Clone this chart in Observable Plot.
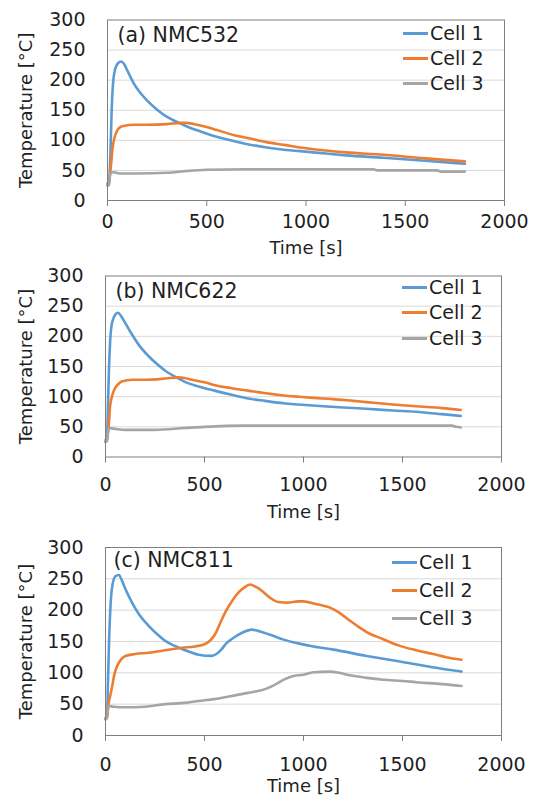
<!DOCTYPE html>
<html><head><meta charset="utf-8">
<script src="https://cdn.jsdelivr.net/npm/d3@7"></script>
<script src="https://cdn.jsdelivr.net/npm/@observablehq/plot@0.6"></script>
<style>
body{margin:0;background:#fff;}
#wrap{position:relative;width:539px;height:796px;font-family:"DejaVu Sans",sans-serif;color:#1f1f1f;overflow:hidden}
.panel{position:absolute;left:0;}
.panel svg{overflow:visible}
.leg{position:absolute;font-size:19px;line-height:19px;white-space:nowrap;display:flex;align-items:center}
.leg span.sw{display:inline-block;width:25px;height:3px;margin-right:2px}
</style></head>
<body><div id="wrap"></div>
<script>
// ---------- data ----------
const seriesNames = ["Cell 1", "Cell 2", "Cell 3"];
const seriesColors = ["#5B9BD5", "#ED7D31", "#A5A5A5"];
const panelTitles = ["(a) NMC532", "(b) NMC622", "(c) NMC811"];
const xTicks = [0, 500, 1000, 1500, 2000];
const yTicks = [0, 50, 100, 150, 200, 250, 300];

// (a) NMC532
const a_cell1 = [[0,25],[8,30],[15,80],[20,140],[28,195],[40,220],[55,229],[68,231],[85,226],[100,216],[130,196],[160,181],[200,166],[250,151],[300,139],[367,128],[400,123],[467,115],[550,106],[634,99],[700,94],[802,88],[900,84],[970,82],[1100,78],[1200,75],[1389,71],[1600,66],[1800,61]];
const a_cell2 = [[0,28],[10,38],[18,60],[25,86],[35,104],[48,116],[65,122],[82,124],[132,126],[200,126],[300,127],[367,129],[400,129],[434,127],[500,122],[551,117],[634,109],[719,103],[800,97],[900,92],[970,88],[1100,83],[1200,80],[1389,76],[1600,70],[1800,65]];
const a_cell3 = [[0,25],[8,26],[12,40],[18,47],[30,47],[60,45],[150,45],[300,46],[400,49],[500,51],[700,52],[1000,52],[1340,52],[1360,50],[1660,50],[1680,48],[1800,48]];
// (b) NMC622
const b_cell1 = [[0,25],[8,30],[12,80],[18,150],[25,200],[35,225],[50,236],[63,239],[80,233],[100,222],[134,203],[170,185],[218,167],[260,154],[302,143],[369,130],[420,122],[470,117],[550,110],[637,103],[720,97],[805,93],[900,89],[975,87],[1100,84],[1200,82],[1316,80],[1450,77],[1567,75],[1700,71],[1794,68]];
const b_cell2 = [[0,28],[10,35],[18,60],[23,84],[35,103],[48,114],[65,121],[82,125],[134,128],[200,128],[302,130],[369,132],[400,131],[436,128],[500,124],[553,119],[637,114],[720,110],[800,106],[900,102],[972,100],[1050,98],[1149,96],[1250,93],[1316,91],[1450,87],[1567,84],[1700,81],[1794,78]];
const b_cell3 = [[0,25],[8,27],[12,40],[18,48],[40,47],[100,45],[250,45],[400,48],[500,50],[700,52],[1000,52],[1500,52],[1750,52],[1770,50],[1794,49]];
// (c) NMC811
const c_cell1 = [[0,26],[8,30],[12,80],[18,150],[25,205],[35,240],[50,254],[67,256],[85,246],[100,234],[134,212],[170,193],[218,175],[260,162],[302,151],[350,143],[386,138],[430,133],[470,129],[537,127],[560,130],[587,138],[610,147],[638,154],[690,164],[738,169],[780,166],[839,160],[900,153],[973,147],[1050,142],[1151,137],[1319,127],[1487,118],[1650,109],[1798,102]];
const c_cell2 = [[0,28],[8,32],[15,50],[25,65],[34,79],[45,98],[59,111],[80,122],[101,127],[150,130],[218,132],[300,136],[386,140],[450,142],[503,146],[530,152],[554,162],[580,180],[604,196],[640,215],[671,228],[700,236],[730,241],[760,237],[789,231],[830,220],[873,213],[920,212],[973,214],[1000,214],[1060,210],[1134,204],[1180,196],[1235,183],[1280,173],[1319,165],[1400,154],[1487,143],[1570,136],[1655,130],[1720,125],[1798,121]];
const c_cell3 = [[0,26],[8,28],[12,40],[18,47],[40,46],[100,45],[200,46],[302,50],[400,52],[470,55],[550,58],[638,63],[720,68],[806,74],[850,80],[906,90],[950,95],[1000,97],[1051,101],[1134,102],[1180,100],[1235,96],[1320,92],[1403,89],[1500,87],[1571,85],[1700,82],[1798,79]];

// ---------- layout ----------
const panels = [
  {title: panelTitles[0], series: [a_cell1, a_cell2, a_cell3], top: 0, height: 265, mt: 19.5, mb: 65, ml: 107, mr: 35, tickPad: 8.2, xLabOff: 53, yLabOff: 88, tdx: 10, tdy: 15.5, leg: {left: 403, top: 33, gap: 25}},
  {title: panelTitles[1], series: [b_cell1, b_cell2, b_cell3], top: 265, height: 265, mt: 10.5, mb: 73.5, ml: 105, mr: 38, tickPad: 14.2, xLabOff: 61, yLabOff: 86, tdx: 10, tdy: 15.5, leg: {left: 402, top: 287, gap: 25.5}},
  {title: panelTitles[2], series: [c_cell1, c_cell2, c_cell3], top: 530, height: 266, mt: 17, mb: 61, ml: 105, mr: 38, tickPad: 15.5, xLabOff: 56, yLabOff: 86, tdx: 8, tdy: 13, leg: {left: 392, top: 562, gap: 28}}
];

const wrap = document.getElementById("wrap");
const font = '"DejaVu Sans", sans-serif';

panels.forEach(p => {
  const rows = [];
  p.series.forEach((s, i) => s.forEach(([t, v]) => rows.push({t, v, cell: seriesNames[i]})));
  const chart = Plot.plot({
    width: 539, height: p.height,
    marginTop: p.mt, marginBottom: p.mb, marginLeft: p.ml, marginRight: p.mr,
    style: {fontFamily: font, fontSize: "19px", color: "#1f1f1f", background: "transparent"},
    x: {domain: [0, 2000]},
    y: {domain: [0, 300]},
    color: {domain: seriesNames, range: seriesColors},
    marks: [
      Plot.gridY(yTicks.filter(d => d > 0 && d < 300), {stroke: "#d9d9d9", strokeOpacity: 1}),
      Plot.axisX({ticks: xTicks, tickFormat: d => String(d), tickSize: 6, tickPadding: p.tickPad, stroke: "#7f7f7f", fontSize: 19, label: null}),
      Plot.axisX({ticks: [], tickSize: 0, label: "Time [s]", labelAnchor: "center", labelArrow: "none", labelOffset: p.xLabOff, fontSize: 18}),
      Plot.axisY({ticks: yTicks, tickFormat: d => String(d), tickSize: 0, tickPadding: 22, fontSize: 19, label: null}),
      Plot.axisY({ticks: [], tickSize: 0, label: "Temperature [°C]", labelAnchor: "center", labelArrow: "none", labelOffset: p.yLabOff, fontSize: 18}),
      Plot.line(rows, {x: "t", y: "v", z: "cell", stroke: "cell", strokeWidth: 2.6, curve: "monotone-x"}),
      Plot.frame({stroke: "#7f7f7f"}),
      Plot.text([p.title], {frameAnchor: "top-left", dx: p.tdx, dy: p.tdy, text: d => d, textAnchor: "start", lineAnchor: "middle", fontSize: 20.5, fill: "#1f1f1f"})
    ]
  });
  const holder = document.createElement("div");
  holder.className = "panel";
  holder.style.top = p.top + "px";
  holder.appendChild(chart);
  wrap.appendChild(holder);
  seriesNames.forEach((name, i) => {
    const d = document.createElement("div");
    d.className = "leg";
    d.style.left = p.leg.left + "px";
    d.style.top = (p.leg.top + i * p.leg.gap - 9.5) + "px";
    d.innerHTML = `<span class="sw" style="background:${seriesColors[i]}"></span>${name}`;
    wrap.appendChild(d);
  });
});
</script></body></html>
